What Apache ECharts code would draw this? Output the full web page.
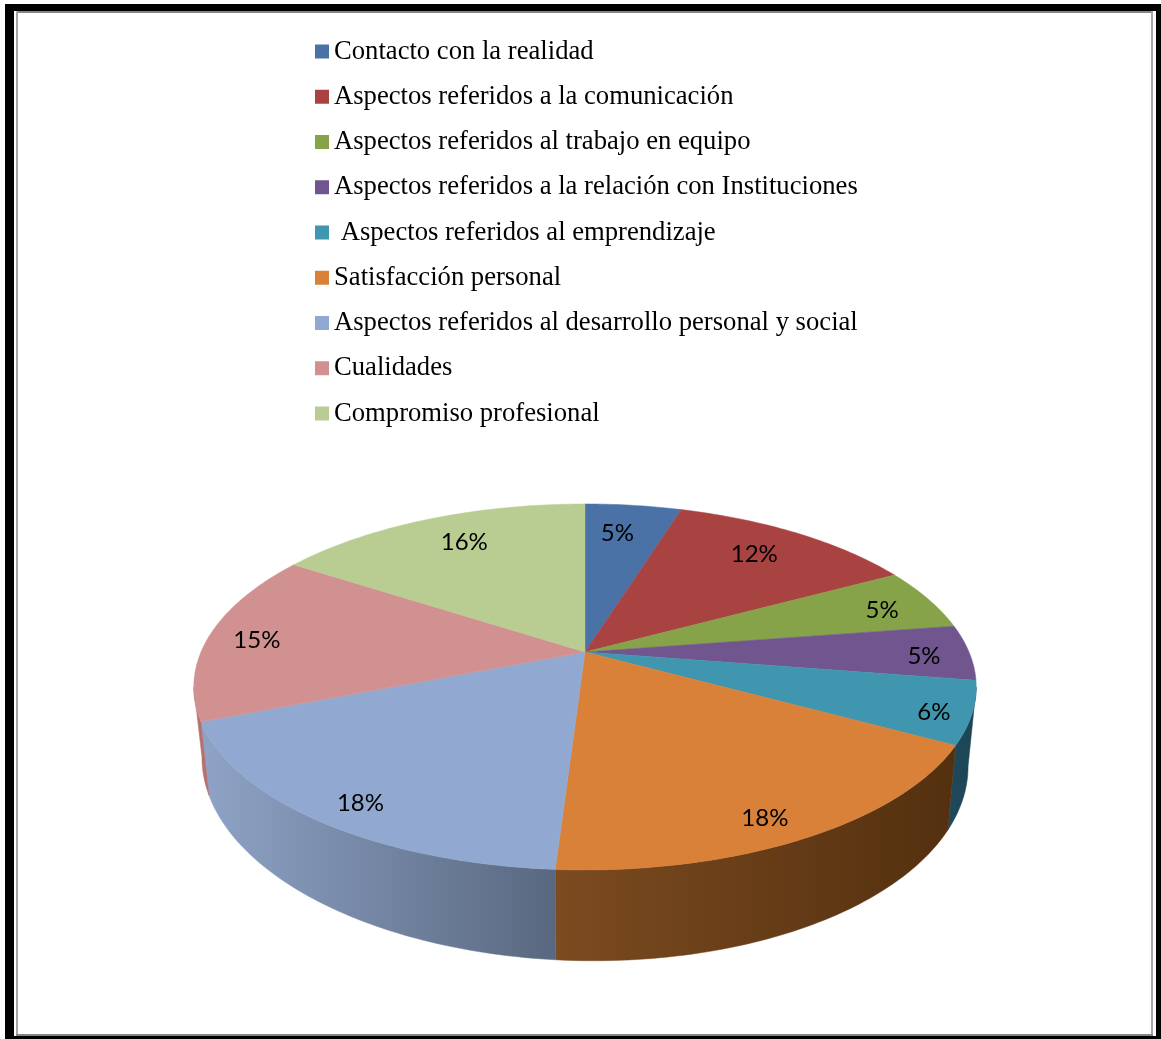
<!DOCTYPE html>
<html><head><meta charset="utf-8">
<style>html,body{margin:0;padding:0;background:#fff}#c{width:1161px;height:1039px}</style>
<script src="https://cdn.jsdelivr.net/npm/echarts@6/dist/echarts.min.js"></script>
</head><body><div id="c"></div>
<script>
const categories = ['Contacto con la realidad','Aspectos referidos a la comunicación','Aspectos referidos al trabajo en equipo','Aspectos referidos a la relación con Instituciones',' Aspectos referidos al emprendizaje','Satisfacción personal','Aspectos referidos al desarrollo personal y social','Cualidades','Compromiso profesional'];
const percentValues = [4.8,12.3,5.49,4.9,5.51,18,18,15.2,15.8];

const topColors = ['#4a72a6','#a94342','#87a34a','#71558f','#3f96ae','#d98039','#91a9d0','#d09190','#b9cc92'];
const wallColors = [null,null,null,null,['#1f4a5c','#1c4455'],['#7c4b20','#53300f'],['#8ea3c6','#596880'],['#b4716f','#b4716f'],null];
const labelRadius = [.79,.8,.85,.88,.91,.89,.89,.87,.8];
const labelAngleShift = [-1.6,-1.3,1.2,1,1.4,2.3,-1.6,-.8,1.9];

// perspective model of the tilted disc
const CX=585, K=.191, A=384;
const TOP={cy:652,b:176.3,a:A,t:0}, BOT={cy:724,b:191.5,a:376,t:4.5};
const VIS0=101, VIS1=259;
function proj(deg,r,p){
  const t=deg*Math.PI/180,u=Math.sin(t)*r,v=Math.cos(t)*r,w=1+K*v;
  return [CX+p.a*u/w,p.cy-p.b*v/w+p.t*u/w];
}
function arc(a,b,r,p){const n=Math.max(2,Math.ceil(Math.abs(b-a)));const o=[];for(let i=0;i<=n;i++)o.push(proj(a+(b-a)*i/n,r,p));return o;}
const total=percentValues.reduce((s,x)=>s+x,0);
let acc=0;
const series=categories.map((name,i)=>{
  const start=acc; acc+=percentValues[i];
  return {
    type:'custom',name,coordinateSystem:'none',silent:true,animation:false,
    itemStyle:{color:topColors[i]},
    data:[[percentValues[i],start]],
    renderItem(params,api){
      const val=api.value(0),st=api.value(1);
      const a0=st/total*360,a1=(st+val)/total*360;
      const children=[];
      const l=Math.max(a0,VIS0),h=Math.min(a1,VIS1);
      if(h>l&&wallColors[i]){
        const pts=arc(l,h,1,TOP).concat(arc(h,l,1,BOT));
        const xs=pts.map(q=>q[0]);
        const fill=new echarts.graphic.LinearGradient(Math.min(...xs),0,Math.max(...xs),0,[{offset:0,color:wallColors[i][0]},{offset:1,color:wallColors[i][1]}],true);
        children.push({type:'polygon',shape:{points:pts},style:{fill,stroke:fill,lineWidth:.5}});
      }
      const pts=[proj(0,0,TOP)].concat(arc(a0,a1,1,TOP));
      children.push({type:'polygon',shape:{points:pts},style:{fill:topColors[i],stroke:topColors[i],lineWidth:.5}});
      const m=proj((a0+a1)/2+labelAngleShift[i],labelRadius[i],TOP);
      children.push({type:'text',z2:10,style:{text:Math.round(val)+'%',x:m[0],y:m[1]+1,align:'center',verticalAlign:'middle',font:'24px Lato, Carlito, sans-serif',fill:'#000'}});
      return {type:'group',children};
    }
  };
});
const frame=[
  {type:'rect',shape:{x:5,y:4,width:1156,height:7},style:{fill:'#000'}},
  {type:'rect',shape:{x:5,y:4,width:9,height:1035},style:{fill:'#000'}},
  {type:'rect',shape:{x:1156,y:4,width:5,height:1035},style:{fill:'#000'}},
  {type:'rect',shape:{x:5,y:1036,width:1156,height:3},style:{fill:'#000'}},
  {type:'rect',shape:{x:16,y:11,width:1137,height:2},style:{fill:'#858585'}},
  {type:'rect',shape:{x:16,y:11,width:2,height:1025},style:{fill:'#a6a6a6'}},
  {type:'rect',shape:{x:1151,y:11,width:2,height:1025},style:{fill:'#a6a6a6'}},
  {type:'rect',shape:{x:16,y:1034,width:1137,height:2},style:{fill:'#858585'}}
];
const chart=echarts.init(document.getElementById('c'),null,{renderer:'canvas'});
chart.setOption({
  backgroundColor:'#fff',animation:false,
  graphic:{elements:frame},
  legend:{orient:'vertical',left:310,top:31,itemWidth:14,itemHeight:14,itemGap:14.25,icon:'rect',selectedMode:false,
    data:categories,
    textStyle:{fontFamily:'"Liberation Serif", serif',fontSize:26.65,color:'#000',lineHeight:27,padding:[4,0,0,0]}},
  series
});
</script></body></html>
